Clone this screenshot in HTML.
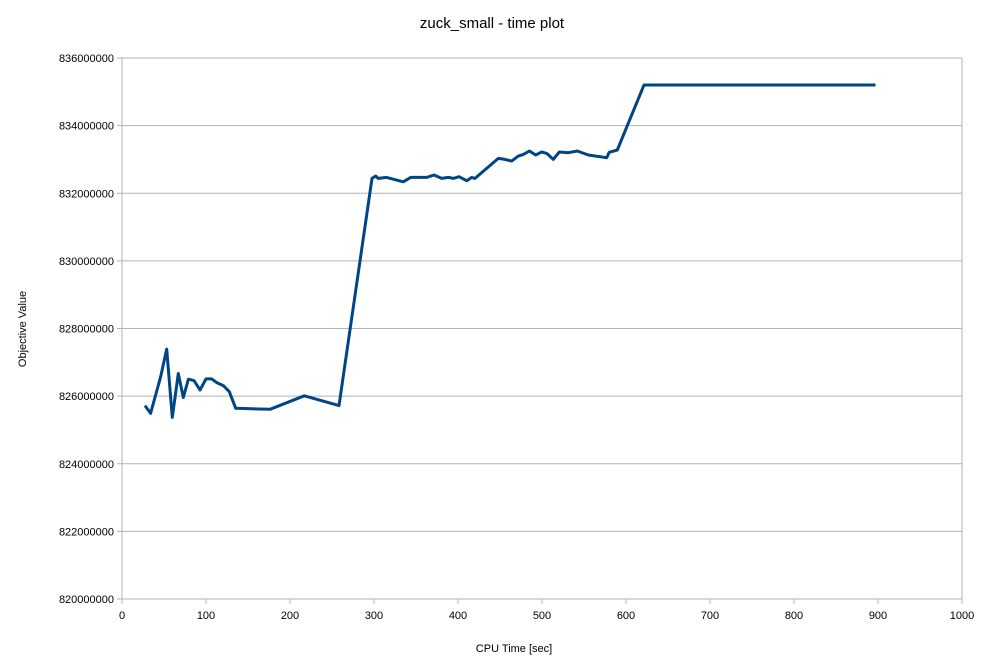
<!DOCTYPE html>
<html><head><meta charset="utf-8"><style>
body{margin:0;background:#fff;font-family:"Liberation Sans",sans-serif}
svg text{font-family:"Liberation Sans",sans-serif;fill:#000}
</style></head><body>
<svg width="984" height="663">
<rect width="984" height="663" fill="#fff"/>
<text x="492" y="28" font-size="15" text-anchor="middle">zuck_small - time plot</text>
<g id="grid"></g><g id="xt"></g><g id="yt"></g>
<text x="514" y="652" font-size="11" text-anchor="middle">CPU Time [sec]</text>
<text transform="translate(26,329) rotate(-90)" font-size="11" text-anchor="middle">Objective Value</text>
<path id="line" fill="none" stroke="#004586" stroke-width="3" stroke-linejoin="round"/>
</svg>
<script>
const times=[27.4,34.1,46,53.2,59.9,67,73,79,85.7,92.9,100,106.8,112.7,120.6,127.7,135.4,176.2,217,258.3,297.6,302,305,315,334.9,343.7,362.7,371.4,380.6,388.5,394.4,401.2,410.3,416.3,420.2,448,456,463.9,471.8,477.8,485,492.5,499.6,505.6,513.5,520.6,531.3,542,555.1,577,580,589.6,621.4,700,800,897];
const values=[825.72,825.49,826.57,827.39,825.37,826.67,825.96,826.5,826.46,826.18,826.51,826.51,826.4,826.31,826.13,825.64,825.61,826.01,825.72,832.44,832.51,832.44,832.47,832.34,832.47,832.47,832.54,832.44,832.47,832.44,832.49,832.37,832.47,832.44,833.03,833.0,832.95,833.1,833.15,833.25,833.13,833.22,833.18,833.0,833.22,833.2,833.25,833.13,833.05,833.21,833.28,835.2,835.2,835.2,835.2];
const xTicks=[0,100,200,300,400,500,600,700,800,900,1000];
const yTicks=[820000000,822000000,824000000,826000000,828000000,830000000,832000000,834000000,836000000];
const X0=122,X1=962,Y0=599,Y1=58;
const sx=t=>X0+(t-0)/1000*(X1-X0);
const sy=v=>Y0-(v-820)/16*(Y0-Y1);
const NS='http://www.w3.org/2000/svg';
function mk(tag,attrs,parent,txt){const e=document.createElementNS(NS,tag);for(const k in attrs)e.setAttribute(k,attrs[k]);if(txt!==undefined)e.textContent=txt;document.getElementById(parent).appendChild(e);return e;}
yTicks.forEach(v=>{const y=sy(v/1e6);
 const g=mk('line',{x1:X0-5,x2:X1,y1:y,y2:y,stroke:'#b3b3b3','stroke-width':1},'grid');
 
 
 const t=mk('text',{x:X0-8,y:y+4,'font-size':11,'text-anchor':'end'},'yt',String(v));
 
 
});
mk('line',{x1:X0,x2:X0,y1:Y1,y2:Y0+5,stroke:'#b3b3b3'},'grid');
mk('line',{x1:X1,x2:X1,y1:Y1,y2:Y0+5,stroke:'#b3b3b3'},'grid');
xTicks.forEach(v=>{const x=sx(v);
 mk('line',{x1:x,x2:x,y1:Y0,y2:Y0+5,stroke:'#b3b3b3'},'grid');
 const t=mk('text',{x:x,y:Y0+20,'font-size':11,'text-anchor':'middle'},'xt',String(v));
 
 
});
document.getElementById('line').setAttribute('d',times.map((t,i)=>(i?'L':'M')+sx(t).toFixed(1)+','+sy(values[i]).toFixed(1)).join(''));
</script>
</body></html>
